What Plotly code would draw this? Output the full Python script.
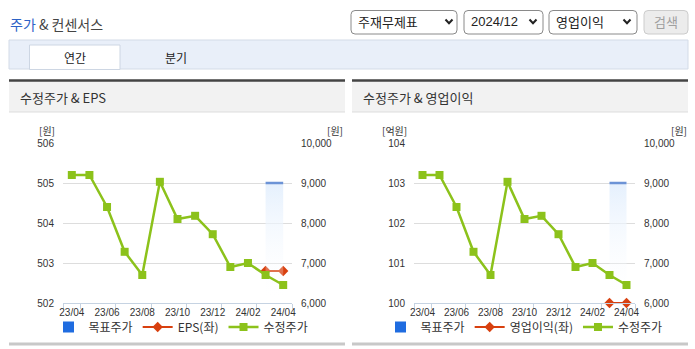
import plotly.graph_objects as go

W, H = 695, 349

# ---------------- data ----------------
MONTHS = ["23/04", "23/05", "23/06", "23/07", "23/08", "23/09", "23/10",
          "23/11", "23/12", "24/01", "24/02", "24/03", "24/04"]
TICK_LABELS = ["23/04", "23/06", "23/08", "23/10", "23/12", "24/02", "24/04"]
PRICE = [9200, 9200, 8400, 7280, 6700, 9030, 8100, 8180, 7720, 6900, 7000, 6700, 6450]
EPS = [None, None, None, None, None, None, None, None, None, None, None, 502.8, 502.8]
OP_INCOME = [None, None, None, None, None, None, None, None, None, None, None, 100.0, 100.0]
TARGET = [None, None, None, None, None, None, None, None, None, None, None, 9000, 9000]

EPS_TICKS = [502, 503, 504, 505, 506]
OP_TICKS = [100, 101, 102, 103, 104]
PRICE_TICKS = [6000, 7000, 8000, 9000, 10000]

# ---------------- styles ----------------
KR = "Noto Sans CJK KR"
NUM = "Liberation Sans, Noto Sans CJK KR"
GREEN = "#8cc21b"
RED = "#d8400f"
BLUE = "#1f6ce0"
TLINE = "#6c93d6"

xi = list(range(len(MONTHS)))
tick_idx = [MONTHS.index(m) for m in TICK_LABELS]


def X(p):
    return p / W


def Y(p):
    return 1 - p / H


def pick(xs, ys):
    px = [a for a, b in zip(xs, ys) if b is not None]
    py = [b for b in ys if b is not None]
    return px, py


fig = go.Figure()


def add_panel(xa, ya_left, ya_right, left_vals, left_name, legend):
    fig.add_trace(go.Scatter(x=[None], y=[None], mode="markers", name="목표주가",
                             marker=dict(symbol="square", size=11, color=BLUE),
                             xaxis=xa, yaxis=ya_right, legend=legend))
    tx, ty = pick(xi, TARGET)
    fig.add_trace(go.Scatter(x=tx, y=ty, mode="lines", name="목표주가", showlegend=False,
                             line=dict(color=TLINE, width=2.5), fill="tozeroy",
                             fillgradient=dict(type="vertical", start=6000, stop=9000,
                                               colorscale=[[0, "rgba(255,255,255,0)"],
                                                           [1, "rgba(229,240,253,1)"]]),
                             xaxis=xa, yaxis=ya_right, hoverinfo="skip"))
    lx, ly = pick(xi, left_vals)
    fig.add_trace(go.Scatter(x=lx, y=ly, mode="lines+markers", name=left_name,
                             line=dict(color=RED, width=2),
                             marker=dict(symbol="diamond", size=8, color=RED),
                             cliponaxis=False, xaxis=xa, yaxis=ya_left, legend=legend))
    fig.add_trace(go.Scatter(x=xi, y=PRICE, mode="lines+markers", name="수정주가",
                             line=dict(color=GREEN, width=2.5),
                             marker=dict(symbol="square", size=8, color=GREEN),
                             cliponaxis=False, xaxis=xa, yaxis=ya_right, legend=legend))


add_panel("x", "y", "y2", EPS, "EPS(좌)", "legend")
add_panel("x2", "y3", "y4", OP_INCOME, "영업이익(좌)", "legend2")

ydom = [Y(303), Y(143)]
minor_vals = [-0.5, 0.5, 2.5, 4.5, 6.5, 8.5, 10.5, 12.5]


def xaxis(dom, anchor):
    return dict(domain=dom, anchor=anchor, range=[-0.5, 12.5], tickmode="array",
                tickvals=tick_idx, ticktext=TICK_LABELS, ticks="", showgrid=False,
                zeroline=False, showline=True, linecolor="#c6d3e2", linewidth=1,
                tickfont=dict(family=NUM, size=10, color="#333"),
                minor=dict(tickmode="array", tickvals=minor_vals, ticks="outside",
                           ticklen=5, tickcolor="#c6d3e2", showgrid=False),
                automargin=False, fixedrange=True)


def yleft(anchor, rng, vals):
    return dict(domain=ydom, anchor=anchor, range=rng, tickmode="array", tickvals=vals,
                showgrid=True, gridcolor="#dddddd", gridwidth=1, zeroline=False,
                showline=False, ticks="outside", ticklen=6, tickcolor="rgba(0,0,0,0)",
                tickfont=dict(family=NUM, size=10, color="#333"), automargin=False,
                fixedrange=True)


def yright(anchor, over):
    return dict(anchor=anchor, overlaying=over, side="right", range=[6000, 10000],
                tickmode="array", tickvals=PRICE_TICKS, tickformat=",", showgrid=False,
                zeroline=False, showline=False, ticks="outside", ticklen=6,
                tickcolor="rgba(0,0,0,0)",
                tickfont=dict(family=NUM, size=10, color="#333"), automargin=False,
                fixedrange=True)


# ---------------- chrome: shapes & texts ----------------
shapes = []
ann = []


def rect(x0, y0, x1, y1, fill, line=None, lw=0):
    shapes.append(dict(type="rect", xref="paper", yref="paper", x0=X(x0), x1=X(x1),
                       y0=Y(y1), y1=Y(y0), fillcolor=fill, layer="below",
                       line=dict(color=line or "rgba(0,0,0,0)", width=lw)))


def hline(x0, x1, y, color, w):
    shapes.append(dict(type="line", xref="paper", yref="paper", x0=X(x0), x1=X(x1),
                       y0=Y(y), y1=Y(y), line=dict(color=color, width=w)))


def rrect(x0, y0, x1, y1, r, fill, line, lw=1):
    p = (f"M {X(x0 + r)},{Y(y0)} L {X(x1 - r)},{Y(y0)} Q {X(x1)},{Y(y0)} {X(x1)},{Y(y0 + r)} "
         f"L {X(x1)},{Y(y1 - r)} Q {X(x1)},{Y(y1)} {X(x1 - r)},{Y(y1)} "
         f"L {X(x0 + r)},{Y(y1)} Q {X(x0)},{Y(y1)} {X(x0)},{Y(y1 - r)} "
         f"L {X(x0)},{Y(y0 + r)} Q {X(x0)},{Y(y0)} {X(x0 + r)},{Y(y0)} Z")
    shapes.append(dict(type="path", xref="paper", yref="paper", path=p, fillcolor=fill,
                       line=dict(color=line, width=lw), layer="below"))


def chevron(cx, cy):
    p = f"M {X(cx - 3.5)},{Y(cy - 2)} L {X(cx)},{Y(cy + 1.8)} L {X(cx + 3.5)},{Y(cy - 2)}"
    shapes.append(dict(type="path", xref="paper", yref="paper", path=p,
                       line=dict(color="#222", width=2)))


def text(x, y, s, size=12, color="#333", anchor="left", family=KR):
    ann.append(dict(x=X(x), y=Y(y), xref="paper", yref="paper", text=s, showarrow=False,
                    xanchor=anchor, yanchor="middle", borderpad=0,
                    font=dict(family=family, size=size, color=color)))


# header title
text(9, 24, "<span style='color:#2d62c6'>주가</span> & 컨센서스", size=14, color="#444")

# dropdowns
rrect(351, 10.5, 457, 34, 4, "white", "#8a8a8a")
text(357, 22, "주재무제표", size=13, color="#222")
chevron(449, 21.5)
rrect(464, 10.5, 543, 34, 4, "white", "#8a8a8a")
text(470, 22, "2024/12", size=13, color="#222", family=NUM)
chevron(533, 21.5)
rrect(549, 10.5, 637, 34, 4, "white", "#8a8a8a")
text(555, 22, "영업이익", size=13, color="#222")
chevron(627, 21.5)
rrect(644, 10.5, 688, 34, 4, "#ececec", "#cccccc")
text(666, 22, "검색", size=13, color="#a0a0a0", anchor="center")

# tab bar
rect(9, 40, 688, 69, "#e9eff9", "#d3dbe7", 1)
rect(29.5, 45, 120, 69.5, "white", "#cdd6e3", 1)
text(75, 57, "연간", size=12, color="#222", anchor="center")
text(176, 57, "분기", size=12, color="#222", anchor="center")

# panels
for (a, b, title) in [(9, 345, "수정주가 & EPS"), (352, 688, "수정주가 & 영업이익")]:
    rect(a, 80, b, 112, "#f2f2f2")
    hline(a, b, 80.5, "#444444", 2.5)
    hline(a, b, 112, "#dddddd", 1)
    hline(a, b, 344, "#c8c8c8", 3)
    text(a + 10, 97, title, size=13, color="#333")

# axis unit labels
text(47, 130.5, "[원]", size=10, anchor="center")
text(335, 130.5, "[원]", size=10, anchor="center")
text(394, 130.5, "[억원]", size=10, anchor="center")
text(679, 130.5, "[원]", size=10, anchor="center")

legend_common = dict(orientation="h", yanchor="middle", xanchor="center",
                     bgcolor="rgba(0,0,0,0)", font=dict(family=KR, size=12, color="#333"),
                     itemwidth=30, tracegroupgap=0, itemclick=False, itemdoubleclick=False)

fig.update_layout(
    width=W, height=H, margin=dict(l=0, r=0, t=0, b=0, pad=0, autoexpand=False),
    autosize=False,
    paper_bgcolor="white", plot_bgcolor="white",
    showlegend=True,
    xaxis=xaxis([X(63), X(292)], "y"),
    yaxis=yleft("x", [502, 506], EPS_TICKS),
    yaxis2=yright("x", "y"),
    xaxis2=xaxis([X(414), X(635)], "y3"),
    yaxis3=yleft("x2", [100, 104], OP_TICKS),
    yaxis4=yright("x2", "y3"),
    legend=dict(x=X(181), y=Y(327), **legend_common),
    legend2=dict(x=X(524), y=Y(327), **legend_common),
    shapes=shapes, annotations=ann,
    hovermode=False,
)

fig.write_html("out.html", config={"displayModeBar": False, "staticPlot": True},
               post_script="document.body.style.margin='0';document.body.style.overflow='hidden';")
